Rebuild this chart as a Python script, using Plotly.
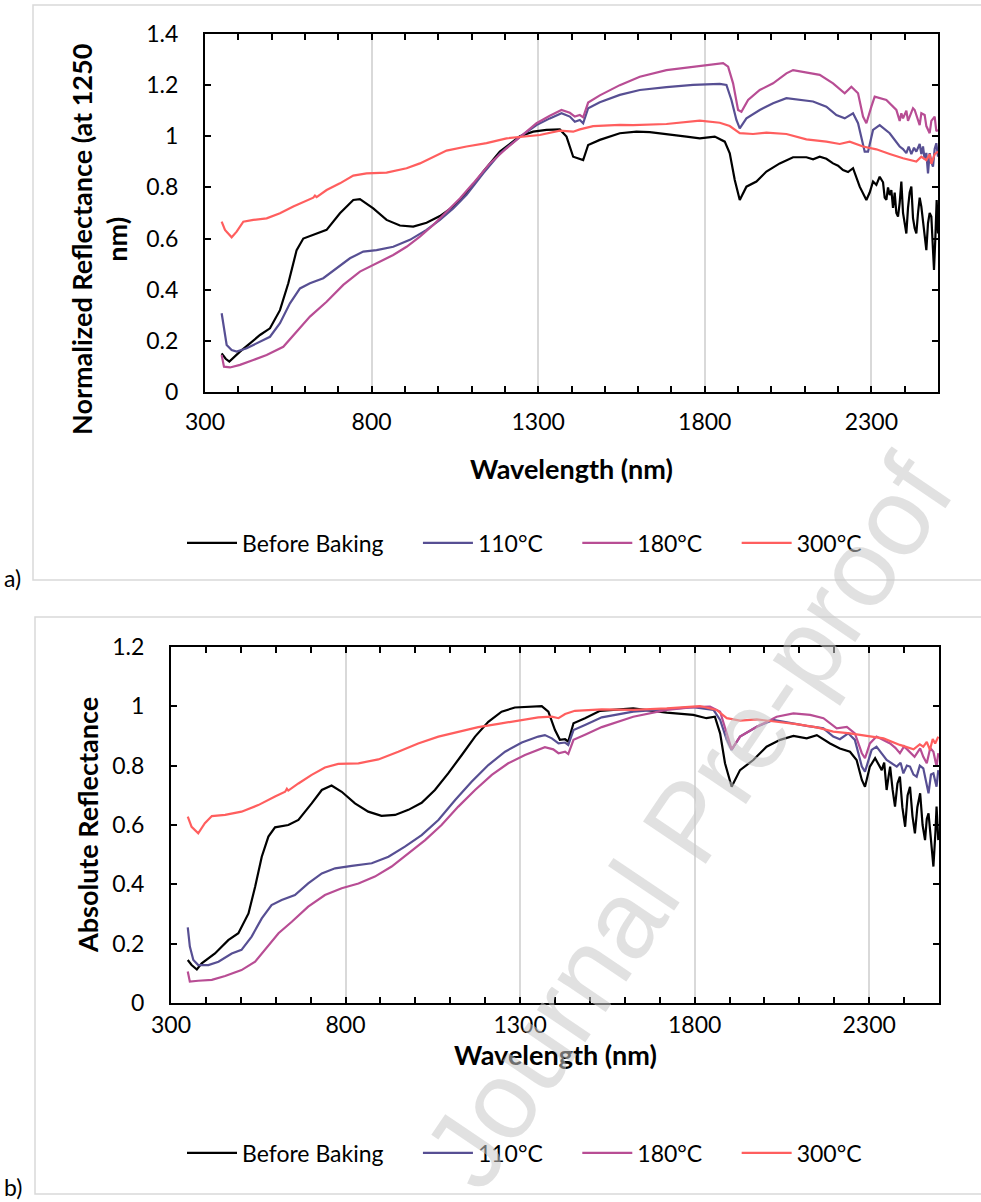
import plotly.graph_objects as go

W, H = 981, 1202

# ---------------- DATA ----------------
series_names = ["Before Baking", "110°C", "180°C", "300°C"]
series_colors = ["#000000", "#574f93", "#b84d94", "#ff5e5e"]

# Chart a) normalized reflectance
wl_a_black = [350, 362, 373, 390, 405, 435, 465, 495, 525, 550, 575, 595, 625, 665, 705, 745, 765, 805, 845, 885,
              925, 965, 1005, 1045, 1085, 1135, 1185, 1245, 1285, 1325, 1365, 1385, 1405, 1420, 1435, 1450, 1485,
              1545, 1595, 1635, 1685, 1745, 1785, 1830, 1860, 1875, 1890, 1905, 1925, 1955, 1985, 2025, 2065, 2105,
              2125, 2145, 2165, 2185, 2200, 2215, 2230, 2245, 2265, 2285, 2295, 2305, 2315, 2325, 2335, 2340, 2345,
              2350, 2355, 2360, 2365, 2370, 2375, 2380, 2385, 2390, 2395, 2400, 2405, 2410, 2415, 2420, 2425, 2430,
              2435, 2440, 2445, 2450, 2455, 2460, 2465, 2470, 2475, 2480, 2484, 2488, 2492, 2496, 2500]
r_a_black = [0.151, 0.13, 0.119, 0.14, 0.158, 0.19, 0.223, 0.249, 0.32, 0.425, 0.555, 0.60, 0.614, 0.634, 0.699,
             0.751, 0.754, 0.718, 0.673, 0.651, 0.647, 0.662, 0.688, 0.725, 0.777, 0.862, 0.94, 1.0, 1.018, 1.025,
             1.027, 0.999, 0.92, 0.914, 0.907, 0.966, 0.986, 1.012, 1.018, 1.016, 1.009, 0.999, 0.992, 0.999, 0.979,
             0.933, 0.829, 0.751, 0.803, 0.823, 0.862, 0.894, 0.918, 0.918, 0.91, 0.92, 0.912, 0.894, 0.885, 0.868,
             0.86, 0.875, 0.803, 0.751, 0.78, 0.823, 0.81, 0.842, 0.82, 0.76, 0.751, 0.80, 0.77, 0.79, 0.72, 0.78,
             0.70, 0.686, 0.74, 0.823, 0.70, 0.66, 0.62, 0.72, 0.78, 0.803, 0.68, 0.64, 0.62, 0.70, 0.76, 0.725,
             0.66, 0.60, 0.555, 0.66, 0.70, 0.686, 0.58, 0.477, 0.60, 0.751, 0.62, 0.568, 0.70]

wl_a_110 = [350, 357, 365, 380, 395, 425, 465, 495, 525, 555, 585, 615, 655, 695, 735, 775, 815, 865, 915, 965,
            1005, 1045, 1085, 1135, 1185, 1245, 1295, 1335, 1370, 1395, 1410, 1425, 1435, 1450, 1485, 1545, 1605,
            1685, 1765, 1845, 1865, 1880, 1895, 1905, 1925, 1965, 2005, 2045, 2085, 2125, 2165, 2195, 2220, 2245,
            2260, 2280, 2290, 2305, 2325, 2355, 2385, 2395, 2405, 2412, 2420, 2428, 2435, 2445, 2450, 2455, 2460,
            2465, 2470, 2475, 2480, 2485, 2490, 2495, 2500]
r_a_110 = [0.308, 0.243, 0.184, 0.164, 0.158, 0.171, 0.197, 0.216, 0.269, 0.347, 0.405, 0.425, 0.445, 0.484, 0.523,
           0.549, 0.555, 0.568, 0.595, 0.634, 0.673, 0.718, 0.771, 0.855, 0.933, 0.998, 1.044, 1.07, 1.09, 1.077,
           1.057, 1.064, 1.051, 1.11, 1.133, 1.162, 1.181, 1.192, 1.201, 1.205, 1.201, 1.142, 1.064, 1.031, 1.07,
           1.103, 1.129, 1.149, 1.142, 1.136, 1.116, 1.083, 1.07, 1.09, 1.051, 0.94, 0.94, 1.025, 1.044, 1.012,
           0.96, 0.95, 0.934, 0.96, 0.93, 0.955, 0.94, 0.97, 0.93, 0.96, 0.91, 0.935, 0.855, 0.934, 0.90, 0.881,
           0.95, 0.973, 0.92]

wl_a_180 = [350, 357, 375, 405, 445, 485, 535, 575, 615, 665, 715, 765, 815, 865, 905, 945, 985, 1025, 1065, 1105,
            1155, 1205, 1245, 1295, 1335, 1370, 1395, 1410, 1425, 1435, 1450, 1485, 1545, 1605, 1685, 1765, 1825,
            1855, 1870, 1885, 1900, 1910, 1930, 1965, 2005, 2045, 2065, 2105, 2145, 2185, 2220, 2240, 2260, 2275,
            2285, 2300, 2310, 2345, 2375, 2385, 2390, 2395, 2405, 2410, 2415, 2425, 2430, 2440, 2445, 2450, 2460,
            2465, 2475, 2480, 2490, 2495, 2500]
r_a_180 = [0.145, 0.099, 0.096, 0.106, 0.125, 0.145, 0.177, 0.236, 0.295, 0.353, 0.419, 0.471, 0.503, 0.536, 0.568,
           0.608, 0.653, 0.705, 0.757, 0.816, 0.894, 0.953, 0.998, 1.051, 1.08, 1.103, 1.092, 1.077, 1.083, 1.074,
           1.132, 1.16, 1.2, 1.233, 1.259, 1.272, 1.279, 1.286, 1.272, 1.207, 1.103, 1.096, 1.142, 1.181, 1.207,
           1.246, 1.259, 1.249, 1.24, 1.207, 1.168, 1.194, 1.168, 1.077, 1.051, 1.116, 1.155, 1.142, 1.103, 1.06,
           1.09, 1.07, 1.10, 1.06, 1.077, 1.11, 1.103, 1.06, 1.044, 1.09, 1.083, 1.04, 1.012, 1.06, 1.077, 1.02,
           1.025]

wl_a_300 = [350, 360, 380, 395, 415, 445, 485, 525, 565, 605, 625, 630, 635, 665, 705, 745, 785, 845, 905, 945, 985,
            1025, 1085, 1145, 1205, 1245, 1305, 1365, 1405, 1425, 1465, 1545, 1585, 1685, 1785, 1845, 1875, 1905,
            1945, 1985, 2045, 2105, 2165, 2205, 2235, 2275, 2315, 2355, 2395, 2435, 2450, 2465, 2475, 2480, 2490,
            2500]
r_a_300 = [0.666, 0.634, 0.605, 0.627, 0.666, 0.673, 0.679, 0.699, 0.725, 0.748, 0.76, 0.768, 0.762, 0.79, 0.816,
           0.846, 0.855, 0.858, 0.875, 0.894, 0.92, 0.944, 0.96, 0.973, 0.992, 0.998, 1.005, 1.022, 1.018, 1.027,
           1.04, 1.045, 1.044, 1.048, 1.061, 1.053, 1.04, 1.012, 1.009, 1.014, 1.009, 0.988, 0.979, 0.97, 0.979,
           0.96, 0.949, 0.931, 0.914, 0.901, 0.92, 0.907, 0.93, 0.892, 0.93, 0.94]

# Chart b) absolute reflectance
wl_b_black = [348, 359, 374, 388, 426, 464, 493, 522, 541, 560, 579, 598, 636, 665, 703, 732, 760, 789, 827, 865,
              903, 942, 980, 1018, 1056, 1094, 1133, 1171, 1209, 1247, 1285, 1324, 1362, 1381, 1400, 1414, 1429,
              1438, 1453, 1486, 1529, 1624, 1720, 1796, 1834, 1858, 1873, 1887, 1906, 1930, 1968, 2006, 2045, 2083,
              2121, 2150, 2188, 2216, 2245, 2264, 2279, 2288, 2302, 2317, 2328, 2336, 2343, 2350, 2355, 2360, 2367,
              2374, 2381, 2388, 2395, 2403, 2410, 2417, 2424, 2431, 2438, 2446, 2453, 2460, 2465, 2470, 2477, 2484,
              2490, 2493, 2498]
r_b_black = [0.145, 0.128, 0.113, 0.134, 0.167, 0.212, 0.235, 0.302, 0.392, 0.493, 0.561, 0.592, 0.6, 0.617, 0.673,
             0.718, 0.733, 0.712, 0.673, 0.645, 0.631, 0.634, 0.651, 0.675, 0.718, 0.774, 0.836, 0.898, 0.948, 0.982,
             0.996, 0.999, 1.001, 0.982, 0.92, 0.887, 0.889, 0.881, 0.943, 0.96, 0.985, 0.993, 0.979, 0.971, 0.96,
             0.965, 0.909, 0.808, 0.729, 0.785, 0.819, 0.864, 0.887, 0.9, 0.892, 0.903, 0.875, 0.858, 0.847, 0.819,
             0.752, 0.729, 0.797, 0.825, 0.80, 0.785, 0.81, 0.718, 0.76, 0.797, 0.72, 0.662, 0.74, 0.763, 0.66, 0.594,
             0.70, 0.729, 0.63, 0.572, 0.66, 0.707, 0.60, 0.549, 0.62, 0.639, 0.55, 0.46, 0.58, 0.662, 0.549]

wl_b_110 = [348, 354, 364, 378, 407, 436, 474, 502, 531, 560, 588, 617, 655, 693, 732, 770, 818, 875, 923, 970, 1018,
            1066, 1114, 1161, 1209, 1257, 1305, 1352, 1371, 1391, 1410, 1429, 1438, 1453, 1486, 1534, 1624, 1720,
            1796, 1854, 1873, 1892, 1906, 1930, 1978, 2025, 2073, 2121, 2169, 2197, 2216, 2240, 2259, 2279, 2288,
            2307, 2321, 2350, 2379, 2390, 2398, 2408, 2417, 2427, 2436, 2445, 2455, 2462, 2470, 2477, 2484, 2493,
            2498]
r_b_110 = [0.255, 0.19, 0.145, 0.128, 0.128, 0.139, 0.167, 0.179, 0.224, 0.285, 0.33, 0.347, 0.364, 0.403, 0.437,
           0.454, 0.462, 0.471, 0.493, 0.527, 0.566, 0.617, 0.684, 0.746, 0.802, 0.847, 0.878, 0.898, 0.903, 0.892,
           0.875, 0.878, 0.87, 0.92, 0.937, 0.963, 0.982, 0.99, 0.997, 0.988, 0.954, 0.887, 0.853, 0.898, 0.931,
           0.954, 0.943, 0.934, 0.926, 0.898, 0.889, 0.909, 0.887, 0.797, 0.78, 0.853, 0.864, 0.819, 0.797, 0.81,
           0.774, 0.80, 0.797, 0.77, 0.763, 0.80, 0.791, 0.75, 0.707, 0.77, 0.774, 0.729, 0.785]

wl_b_180 = [348, 354, 378, 417, 455, 502, 541, 569, 608, 646, 693, 741, 789, 837, 884, 932, 980, 1028, 1075, 1123,
            1171, 1219, 1266, 1314, 1371, 1395, 1410, 1429, 1438, 1453, 1486, 1534, 1624, 1720, 1796, 1844, 1873,
            1892, 1906, 1930, 1978, 2035, 2083, 2131, 2169, 2207, 2236, 2259, 2279, 2288, 2302, 2321, 2360, 2375,
            2388, 2400, 2417, 2430, 2446, 2455, 2465, 2475, 2484, 2493, 2498]
r_b_180 = [0.106, 0.072, 0.075, 0.078, 0.091, 0.111, 0.139, 0.179, 0.235, 0.274, 0.325, 0.364, 0.387, 0.403, 0.426,
           0.46, 0.504, 0.549, 0.6, 0.662, 0.718, 0.769, 0.808, 0.836, 0.862, 0.855, 0.842, 0.847, 0.839, 0.887,
           0.904, 0.93, 0.965, 0.988, 0.997, 0.999, 0.982, 0.909, 0.855, 0.898, 0.931, 0.965, 0.976, 0.971, 0.96,
           0.926, 0.931, 0.909, 0.842, 0.825, 0.875, 0.898, 0.875, 0.86, 0.842, 0.865, 0.847, 0.83, 0.858, 0.83,
           0.808, 0.86, 0.847, 0.797, 0.842]

wl_b_300 = [348, 359, 378, 397, 417, 455, 502, 550, 598, 627, 632, 636, 665, 703, 741, 779, 837, 894, 951, 1008,
            1066, 1123, 1180, 1238, 1295, 1352, 1391, 1410, 1429, 1457, 1534, 1624, 1720, 1815, 1863, 1892, 1930,
            1978, 2035, 2092, 2150, 2197, 2245, 2293, 2341, 2388, 2427, 2445, 2455, 2465, 2474, 2482, 2489, 2498]
r_b_300 = [0.628, 0.594, 0.572, 0.606, 0.63, 0.634, 0.645, 0.667, 0.696, 0.712, 0.722, 0.716, 0.74, 0.769, 0.794,
           0.806, 0.808, 0.821, 0.847, 0.875, 0.898, 0.915, 0.93, 0.941, 0.952, 0.963, 0.965, 0.96, 0.974, 0.985,
           0.99, 0.988, 0.993, 1.001, 0.988, 0.96, 0.952, 0.956, 0.948, 0.94, 0.929, 0.915, 0.909, 0.9, 0.892,
           0.87, 0.855, 0.872, 0.864, 0.88, 0.853, 0.89, 0.875, 0.898]

x_ticks = [300, 800, 1300, 1800, 2300]
y_ticks_a = [0, 0.2, 0.4, 0.6, 0.8, 1, 1.2, 1.4]
y_ticks_b = [0, 0.2, 0.4, 0.6, 0.8, 1, 1.2]

# ---------------- FIGURE ----------------
FONT = "Lato"
TICK_SIZE = 23
LEG_SIZE = 23
TITLE_SIZE = 27
NBSP = "\u00a0"
fig = go.Figure()

data_a = [(wl_a_black, r_a_black), (wl_a_110, r_a_110), (wl_a_180, r_a_180), (wl_a_300, r_a_300)]
data_b = [(wl_b_black, r_b_black), (wl_b_110, r_b_110), (wl_b_180, r_b_180), (wl_b_300, r_b_300)]
legend_labels = [n + (NBSP * 5 if i < len(series_names) - 1 else "") for i, n in enumerate(series_names)]

for (xs, ys), name, col in zip(data_a, legend_labels, series_colors):
    fig.add_trace(go.Scatter(x=xs, y=ys, mode="lines", name=name, line=dict(color=col, width=2.2),
                             xaxis="x", yaxis="y", legend="legend"))
for (xs, ys), name, col in zip(data_b, legend_labels, series_colors):
    fig.add_trace(go.Scatter(x=xs, y=ys, mode="lines", name=name, line=dict(color=col, width=2.2),
                             xaxis="x2", yaxis="y2", legend="legend2"))


def px_x(p):
    return p / W


def px_y(p):
    return 1 - p / H


def x_axis(standoff):
    return dict(range=[300, 2500], tickvals=x_ticks, ticks="inside", ticklen=6, tickwidth=1.5, tickcolor="black",
                showline=True, linecolor="black", linewidth=2, mirror="allticks",
                showgrid=True, gridcolor="#d9d9d9", gridwidth=1.5, zeroline=False,
                minor=dict(dtick=100, tick0=300, ticks="inside", ticklen=6, tickwidth=1.5, tickcolor="black",
                           showgrid=False),
                tickfont=dict(family=FONT, size=TICK_SIZE, color="black"), ticklabelstandoff=standoff,
                fixedrange=True)


common_y = dict(ticks="inside", ticklen=6, tickwidth=1.5, tickcolor="black",
                showline=True, linecolor="black", linewidth=2, mirror="allticks",
                showgrid=False, zeroline=False,
                tickfont=dict(family=FONT, size=TICK_SIZE, color="black"), ticklabelstandoff=20, fixedrange=True)

legend_style = dict(orientation="h", xanchor="left", yanchor="middle",
                    font=dict(family=FONT, size=LEG_SIZE, color="black"), bgcolor="rgba(0,0,0,0)",
                    itemwidth=50, tracegroupgap=0)

fig.update_layout(
    width=W, height=H, margin=dict(l=0, r=0, t=0, b=0, autoexpand=False),
    paper_bgcolor="white", plot_bgcolor="white",
    font=dict(family=FONT, size=TICK_SIZE, color="black"),
    xaxis=dict(domain=[px_x(205), px_x(938)], anchor="y", **x_axis(8)),
    yaxis=dict(domain=[px_y(392), px_y(34)], anchor="x", range=[0, 1.4], tickvals=y_ticks_a, **common_y),
    xaxis2=dict(domain=[px_x(171), px_x(939)], anchor="y2", **x_axis(0)),
    yaxis2=dict(domain=[px_y(1003), px_y(647)], anchor="x2", range=[0, 1.2], tickvals=y_ticks_b, **common_y),
    legend=dict(x=px_x(182), y=px_y(543), **legend_style),
    legend2=dict(x=px_x(182), y=px_y(1153), **legend_style),
    showlegend=True,
)

# chart frames
fig.add_shape(type="rect", xref="paper", yref="paper", x0=px_x(33), x1=1.02, y0=px_y(580), y1=px_y(5),
              line=dict(color="#d9d9d9", width=1.5), layer="below")
fig.add_shape(type="rect", xref="paper", yref="paper", x0=px_x(35), x1=1.02, y0=px_y(1194), y1=px_y(617),
              line=dict(color="#d9d9d9", width=1.5), layer="below")

ann = []


def add_text(text, x, y, size, angle=0, xanchor="center", color="black", family=FONT):
    ann.append(dict(text=text, x=px_x(x), y=px_y(y), textangle=angle, xanchor=xanchor, yanchor="middle",
                    font=dict(family=family, size=size, color=color), showarrow=False,
                    xref="paper", yref="paper"))


add_text("<b>Normalized Reflectance (at 1250<br>nm)</b>", 99, 240, TITLE_SIZE, angle=-90)
add_text("<b>Absolute Reflectance</b>", 88, 825, TITLE_SIZE, angle=-90)
add_text("<b>Wavelength (nm)</b>", 571, 468, TITLE_SIZE)
add_text("<b>Wavelength (nm)</b>", 555, 1054, TITLE_SIZE)
add_text("a)", 2, 578, LEG_SIZE, xanchor="left")
add_text("b)", 2, 1187, LEG_SIZE, xanchor="left")
add_text("Journal Pre-proof", 688, 822, 110, angle=-56, color="rgba(200,200,200,0.55)", family="Liberation Sans")
fig.update_layout(annotations=ann)

fig.write_html("out.html")
